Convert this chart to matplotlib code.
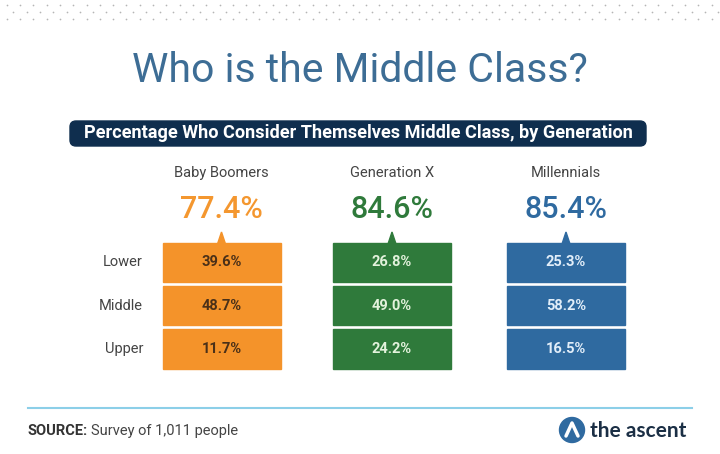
import matplotlib
matplotlib.use("Agg")
import matplotlib.pyplot as plt
import matplotlib.patches as ptc

# data
generations = ["Baby Boomers", "Generation X", "Millennials"]
totals = [77.4, 84.6, 85.4]
classes = ["Lower", "Middle", "Upper"]
shares = {
    "Baby Boomers": [39.6, 48.7, 11.7],
    "Generation X": [26.8, 49.0, 24.2],
    "Millennials": [25.3, 58.2, 16.5],
}
box_colors = ["#f4932a", "#2f7a3b", "#2f6aa0"]
total_colors = ["#f4972f", "#2f7a3b", "#2f6aa0"]
cell_text_colors = ["#4a3018", "#e3f2dc", "#e2eef9"]

plt.rcParams['font.family'] = ['Roboto', 'DejaVu Sans']

fig = plt.figure(figsize=(7.2, 4.54), dpi=100)
ax = fig.add_axes([0, 0, 1, 1])
ax.set_xlim(0, 720)
ax.set_ylim(454, 0)
ax.axis('off')

# dotted pattern at the top
for row, y in enumerate([5, 12, 19]):
    x0 = 6.7 if row != 1 else 13.3
    xs = [x0 + 13.3 * k for k in range(55)]
    ax.scatter(xs, [y] * len(xs), s=1.5, color="#b5b5b5", linewidths=0)

# title
ax.text(360, 70, "Who is the Middle Class?", ha='center', va='center',
        fontsize=29.5, fontweight='normal', color="#3d6d95")

# banner
banner = ptc.FancyBboxPatch((70, 121), 576, 25,
                            boxstyle="round,pad=0,rounding_size=6",
                            color="#0f2e4e", zorder=1)
ax.add_patch(banner)
ax.text(358, 133.5, "Percentage Who Consider Themselves Middle Class, by Generation",
        ha='center', va='center', fontsize=13.1, fontweight='bold',
        color='white', zorder=2)

# columns
centers = [221.5, 392, 566]
box_w = 118
rows_y = [(243, 282), (286, 325), (329, 369)]
for i, g in enumerate(generations):
    cx = centers[i]
    ax.text(cx, 173, g, ha='center', va='center', fontsize=10.5, color="#444444")
    ax.text(cx, 210, f"{totals[i]:.1f}%", ha='center', va='center',
            fontsize=22, fontweight='medium', color=total_colors[i])
    # pointer triangle
    tri = ptc.Polygon([(cx - 4, 244), (cx + 4, 244), (cx, 232)],
                      closed=True, color=box_colors[i])
    ax.add_patch(tri)
    for j, (y0, y1) in enumerate(rows_y):
        rect = ptc.Rectangle((cx - box_w / 2, y0), box_w, y1 - y0,
                             color=box_colors[i])
        ax.add_patch(rect)
        ax.text(cx, (y0 + y1) / 2, f"{shares[g][j]:.1f}%", ha='center',
                va='center', fontsize=10.5, fontweight='bold',
                color=cell_text_colors[i])

for j, (y0, y1) in enumerate(rows_y):
    ax.text(143, (y0 + y1) / 2, classes[j], ha='right', va='center',
            fontsize=10.5, color="#444444")

# footer
ax.plot([28, 692], [408, 408], color="#8ccfe8", lw=1.5)
ax.text(28, 431, "SOURCE:", ha='left', va='center', fontsize=10.5,
        fontweight='bold', color="#333333")
ax.text(91, 431, "Survey of 1,011 people", ha='left', va='center',
        fontsize=10.5, color="#444444")

logo = ptc.Circle((572, 430), 12.5, color="#2f6aa0")
ax.add_patch(logo)
ax.plot([566, 572, 578], [436, 423, 436], color='white', lw=2.5,
        solid_capstyle='round', solid_joinstyle='round')
ax.text(590, 431, "the ascent", ha='left', va='center', fontsize=15,
        fontweight='bold', color="#1b2f45", family=['Lato', 'DejaVu Sans'])

fig.savefig("out.png", dpi=100)
